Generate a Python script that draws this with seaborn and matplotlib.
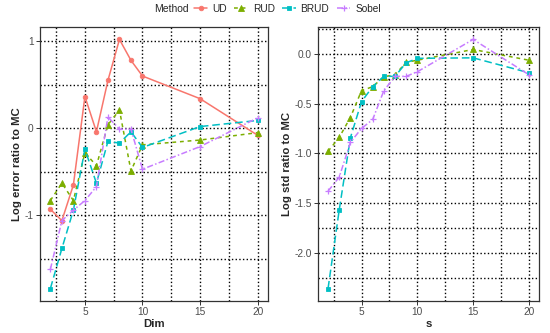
import matplotlib
matplotlib.use("Agg")
import matplotlib.pyplot as plt
from matplotlib.ticker import MultipleLocator
from matplotlib.colors import to_hex
import seaborn as sns
import pandas as pd

dims = [2, 3, 4, 5, 6, 7, 8, 9, 10, 15, 20]

err_ud = [-0.93, -1.06, -0.65, 0.365, -0.04, 0.55, 1.02, 0.78, 0.60, 0.34, -0.08]
err_rud = [-0.83, -0.63, -0.83, -0.28, -0.43, 0.04, 0.21, -0.49, -0.19, -0.135, -0.05]
err_brud = [-1.84, -1.38, -0.94, -0.24, -0.63, -0.15, -0.17, -0.04, -0.22, 0.02, 0.09]
err_sobel = [-1.62, -1.06, -0.94, -0.83, -0.67, 0.13, -0.01, -0.01, -0.47, -0.21, 0.12]

std_rud = [-0.98, -0.84, -0.64, -0.37, -0.33, -0.23, -0.21, -0.085, -0.064, 0.044, -0.064]
std_brud = [-2.36, -1.57, -0.845, -0.48, -0.33, -0.226, -0.226, -0.09, -0.045, -0.04, -0.19]
std_sobel = [-1.38, -1.24, -0.89, -0.75, -0.66, -0.37, -0.226, -0.226, -0.18, 0.145, -0.21]

methods = ["UD", "RUD", "BRUD", "Sobel"]
colors = ["#F8766D", "#7CAE00", "#00BFC4", "#C77CFF"]


def long_frame(series):
    rows = []
    for name, vals in series.items():
        for d, v in zip(dims, vals):
            rows.append({"Dim": d, "value": v, "Method": name})
    return pd.DataFrame(rows)


df_err = long_frame({"UD": err_ud, "RUD": err_rud, "BRUD": err_brud, "Sobel": err_sobel})
df_std = long_frame({"RUD": std_rud, "BRUD": std_brud, "Sobel": std_sobel})

sns.set_style("white")
plt.rcParams["font.family"] = ["Liberation Sans", "DejaVu Sans"]

palette = dict(zip(methods, colors))
# seaborn refuses to mix filled and line markers, so Sobel gets "P" and is swapped to "+" later
marker_map = {"UD": "o", "RUD": "^", "BRUD": "s", "Sobel": "P"}
dash_map = {"UD": "", "RUD": (2.5, 2.5), "BRUD": (5, 2.5), "Sobel": (4, 1.5, 1, 1.5)}
msize = {"o": 3.3, "^": 3.8, "s": 3.2}


def fix_markers(lines):
    for line in lines:
        c = to_hex(line.get_color())
        line.set_markeredgecolor(c)
        line.set_markeredgewidth(0.6)
        m = line.get_marker()
        if c == to_hex("#C77CFF"):
            line.set_marker("+")
            line.set_markersize(5)
            line.set_markeredgewidth(0.9)
        elif m in msize:
            line.set_markersize(msize[m])


fig = plt.figure(figsize=(5.5, 3.33), dpi=100)
ax1 = fig.add_axes([40 / 550, 1 - 301 / 333, 228 / 550, 274 / 333])
ax2 = fig.add_axes([318 / 550, 1 - 301 / 333, 221 / 550, 274 / 333])

for ax, df in [(ax1, df_err), (ax2, df_std)]:
    sns.lineplot(
        data=df, x="Dim", y="value", hue="Method", style="Method",
        hue_order=methods, style_order=methods, palette=palette,
        markers=marker_map, dashes=dash_map, linewidth=1.1, ax=ax
    )
    fix_markers(ax.lines)

handles, labels = ax1.get_legend_handles_labels()
fix_markers(handles)
ax1.get_legend().remove()
ax2.get_legend().remove()

# axes styling
ax1.set_ylim(-1.983, 1.163)
ax2.set_ylim(-2.485, 0.27)
ax1.yaxis.set_major_locator(MultipleLocator(1))
ax1.yaxis.set_minor_locator(MultipleLocator(0.5))
ax2.yaxis.set_major_locator(MultipleLocator(0.5))
ax2.yaxis.set_minor_locator(MultipleLocator(0.25))
ax1.yaxis.set_major_formatter(plt.FuncFormatter(lambda v, p: f"{v:.0f}"))
ax2.yaxis.set_major_formatter(plt.FuncFormatter(lambda v, p: f"{v:.1f}"))

for ax in (ax1, ax2):
    ax.set_xlim(1.1, 20.9)
    ax.xaxis.set_major_locator(MultipleLocator(5))
    ax.xaxis.set_minor_locator(MultipleLocator(2.5))
    ax.grid(which="both", color="black", linestyle=":", linewidth=1.0)
    ax.set_axisbelow(True)
    for sp in ax.spines.values():
        sp.set_color("#333333")
        sp.set_linewidth(0.9)
    ax.tick_params(which="major", length=3, width=0.7, color="#333333",
                   labelsize=7.3, labelcolor="#4D4D4D", pad=1.5, left=True, bottom=True)
    ax.tick_params(which="minor", length=0)

ax1.set_xlabel("Dim", fontsize=8.2, fontweight="bold", labelpad=1)
ax1.set_ylabel("Log error ratio to MC", fontsize=8.2, fontweight="bold", labelpad=2)
ax2.set_xlabel("s", fontsize=8.2, fontweight="bold", labelpad=1)
ax2.set_ylabel("Log std ratio to MC", fontsize=8.2, fontweight="bold", labelpad=2)

fig.text(171 / 550, 1 - 9 / 333, "Method", fontsize=7.5, ha="center", va="center")
fig.legend(handles, labels, loc="center left", bbox_to_anchor=(194 / 550, 1 - 9 / 333),
           ncol=4, frameon=False, fontsize=7.3, handlelength=1.3, handletextpad=0.5,
           columnspacing=0.75, borderpad=0, borderaxespad=0)

fig.savefig("out.png", dpi=100)
